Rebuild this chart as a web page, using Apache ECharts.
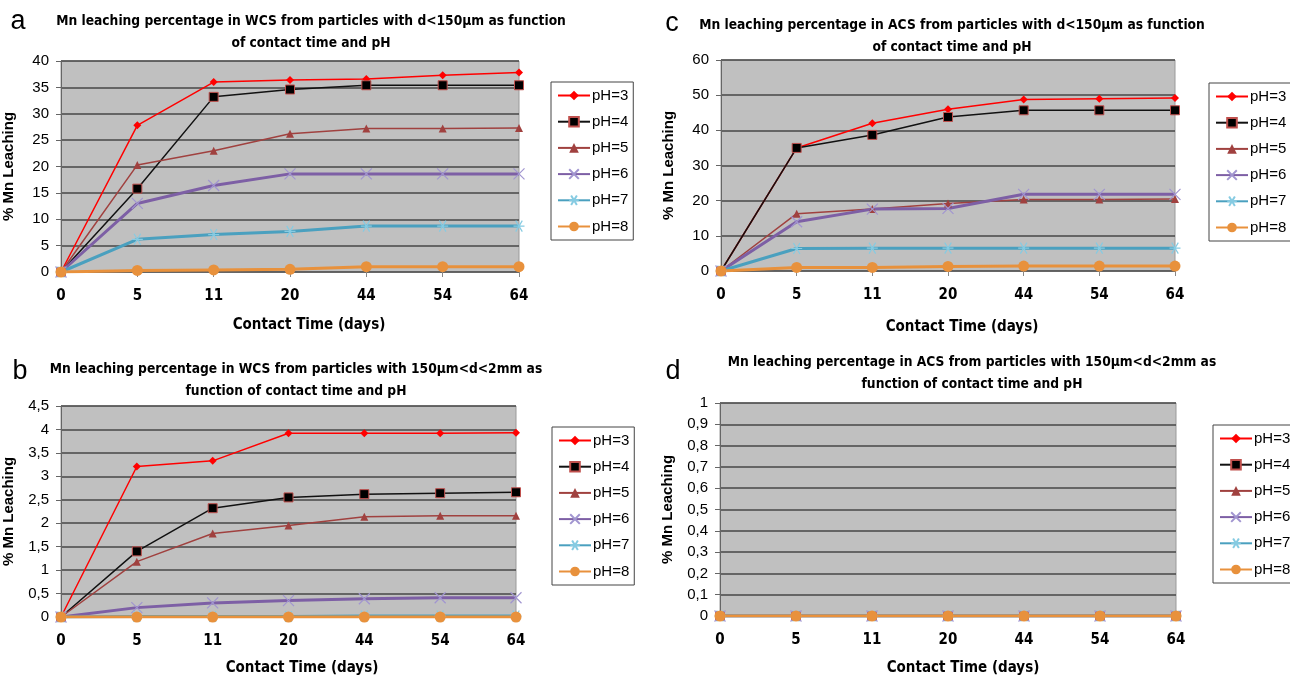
<!DOCTYPE html>
<html>
<head>
<meta charset="utf-8">
<script src="https://cdn.jsdelivr.net/npm/echarts@6/dist/echarts.min.js"></script>
<style>
  html, body { margin: 0; padding: 0; background: #fff; }
  #chart { width: 1290px; height: 676px; }
</style>
</head>
<body>
<div id="chart"></div>
<script>
  // categories: contact time (days)
  var days = ['0', '5', '11', '20', '44', '54', '64'];
  var phNames = ['pH=3', 'pH=4', 'pH=5', 'pH=6', 'pH=7', 'pH=8'];

  // a - WCS, d<150um
  var wcsFine = [
    [0, 27.8, 36.0, 36.4, 36.6, 37.3, 37.8],
    [0, 15.8, 33.2, 34.6, 35.4, 35.4, 35.4],
    [0, 20.3, 23.0, 26.2, 27.2, 27.2, 27.3],
    [0, 13.0, 16.4, 18.6, 18.6, 18.6, 18.6],
    [0, 6.2, 7.1, 7.7, 8.7, 8.7, 8.7],
    [0, 0.3, 0.4, 0.5, 1.0, 1.0, 1.0]
  ];
  // b - WCS, 150um<d<2mm
  var wcsCoarse = [
    [0, 3.21, 3.33, 3.92, 3.92, 3.92, 3.93],
    [0, 1.40, 2.32, 2.55, 2.62, 2.64, 2.66],
    [0, 1.18, 1.78, 1.95, 2.14, 2.16, 2.16],
    [0, 0.20, 0.30, 0.35, 0.39, 0.41, 0.41],
    [0, 0.01, 0.01, 0.01, 0.02, 0.02, 0.02],
    [0, 0, 0, 0, 0, 0, 0]
  ];
  // c - ACS, d<150um
  var acsFine = [
    [0, 35.0, 42.0, 46.0, 48.8, 49.0, 49.2],
    [0, 35.0, 38.7, 43.8, 45.7, 45.7, 45.7],
    [0, 16.3, 17.6, 19.2, 20.3, 20.3, 20.5],
    [0, 14.0, 17.6, 17.8, 21.8, 21.8, 21.8],
    [0, 6.4, 6.5, 6.5, 6.5, 6.5, 6.5],
    [0, 1.0, 1.0, 1.3, 1.4, 1.4, 1.4]
  ];
  // d - ACS, 150um<d<2mm
  var acsCoarse = [
    [0, 0, 0, 0, 0, 0, 0],
    [0, 0, 0, 0, 0, 0, 0],
    [0, 0, 0, 0, 0, 0, 0],
    [0, 0, 0, 0, 0, 0, 0],
    [0, 0, 0, 0, 0, 0, 0],
    [0, 0, 0, 0, 0, 0, 0]
  ];

  var titles = [
    'Mn leaching percentage in WCS from particles with d<150µm as function\nof contact time and pH',
    'Mn leaching percentage in ACS from particles with d<150µm as function\nof contact time and pH',
    'Mn leaching percentage in WCS from particles with 150µm<d<2mm as\nfunction of contact time and pH',
    'Mn leaching percentage in ACS from particles with 150µm<d<2mm as\nfunction of contact time and pH'
  ];
  var letters = ['a', 'c', 'b', 'd'];
  var yMax = [40, 60, 4.5, 1];
  var yStep = [5, 10, 0.5, 0.1];
  var panelData = [wcsFine, acsFine, wcsCoarse, acsCoarse];

  var narrow = '"Liberation Sans Narrow", "DejaVu Sans Condensed", sans-serif';
  var plain = '"Liberation Sans", Arial, sans-serif';

  // panel boxes (pixels)
  var grids = [
    { left: 61, top: 61, width: 458, height: 211 },
    { left: 721, top: 60, width: 454, height: 211 },
    { left: 61, top: 406, width: 455, height: 211 },
    { left: 720, top: 403, width: 456, height: 213 }
  ];
  var titlePos = [[311, 10], [952, 14], [296, 358], [972, 351]];
  var letterPos = [[18, 22], [672, 24], [20, 372], [673, 372]];
  var xNamePos = [[309, 325], [962, 327], [302, 668], [963, 668]];
  var legendPos = [[551, 82], [1209, 83], [552, 427], [1213, 425]];

  var xPath = 'path://M0,0L10,10M10,0L0,10';
  var starPath = 'path://M0,5L10,5M2,0L8,10M8,0L2,10';

  var styles = [
    { line: '#ff0000', w: 1.5, symbol: 'diamond', size: 8, fill: '#ff0000', border: '#ff0000', bw: 0 },
    { line: '#111111', w: 1.5, symbol: 'rect', size: 9, fill: '#000000', border: '#c0504d', bw: 1 },
    { line: '#a0413f', w: 1.5, symbol: 'triangle', size: 8, fill: '#a0413f', border: '#a0413f', bw: 0 },
    { line: '#7d5fa5', w: 3, symbol: xPath, size: 11, fill: 'rgba(0,0,0,0)', border: '#a195d0', bw: 1.2 },
    { line: '#4aa0bf', w: 3, symbol: starPath, size: 11, fill: 'rgba(0,0,0,0)', border: '#86cbe2', bw: 1.2 },
    { line: '#e8913c', w: 3, symbol: 'circle', size: 11, fill: '#e8913c', border: '#e8913c', bw: 0 }
  ];

  var option = {
    animation: false,
    backgroundColor: '#fff',
    grid: [],
    xAxis: [],
    yAxis: [],
    legend: [],
    series: [],
    graphic: []
  };

  for (var p = 0; p < 4; p++) {
    var g = grids[p];
    option.grid.push({
      left: g.left, top: g.top, width: g.width, height: g.height,
      show: true, backgroundColor: '#c0c0c0', borderColor: '#9a9a9a', borderWidth: 1
    });
    option.xAxis.push({
      gridIndex: p,
      type: 'category',
      data: days,
      boundaryGap: false,
      axisLine: { lineStyle: { color: '#666', width: 1 } },
      axisTick: { show: true, length: 5, lineStyle: { color: '#888' } },
      axisLabel: { color: '#000', fontFamily: narrow, fontWeight: 'bold', fontSize: 15, margin: 17 },
      splitLine: { show: false }
    });
    var comma = p >= 2;
    option.yAxis.push({
      gridIndex: p,
      type: 'value',
      min: 0,
      max: yMax[p],
      interval: yStep[p],
      name: '% Mn Leaching',
      nameLocation: 'middle',
      nameGap: 45,
      nameTextStyle: { color: '#000', fontFamily: plain, fontWeight: 'bold', fontSize: 15 },
      axisLine: { show: true, lineStyle: { color: '#666', width: 1 } },
      axisTick: { show: true, length: 5, lineStyle: { color: '#666' } },
      axisLabel: {
        color: '#000', fontFamily: plain, fontSize: 15, margin: 12,
        formatter: (function (c) {
          return function (v) {
            var s = String(Math.round(v * 10) / 10);
            return c ? s.replace('.', ',') : s;
          };
        })(comma)
      },
      splitLine: { show: true, lineStyle: { color: '#474747', width: 1.5 } }
    });
    option.legend.push({
      orient: 'vertical',
      left: legendPos[p][0],
      top: legendPos[p][1],
      data: phNames,
      itemWidth: 32,
      itemHeight: 12,
      itemGap: 11.2,
      padding: [6, 5, 6, 6],
      backgroundColor: '#fff',
      borderColor: '#444',
      borderWidth: 1,
      borderRadius: 0,
      textStyle: { color: '#000', fontFamily: plain, fontSize: 15, padding: [0, 0, 0, -3] }
    });
    for (var s = 0; s < 6; s++) {
      var st = styles[s];
      option.series.push({
        name: phNames[s],
        type: 'line',
        xAxisIndex: p,
        yAxisIndex: p,
        data: panelData[p][s],
        symbol: st.symbol,
        symbolSize: st.size,
        showAllSymbol: true,
        lineStyle: { color: st.line, width: st.w },
        itemStyle: { color: st.fill, borderColor: st.border, borderWidth: st.bw },
        emphasis: { disabled: true }
      });
    }
    option.graphic.push({
      type: 'text', x: titlePos[p][0], y: titlePos[p][1],
      style: {
        text: titles[p], align: 'center', verticalAlign: 'top', lineHeight: 22,
        font: 'bold 13.7px ' + narrow, fill: '#000'
      }
    });
    option.graphic.push({
      type: 'text', x: letterPos[p][0], y: letterPos[p][1],
      style: {
        text: letters[p], align: 'center', verticalAlign: 'middle',
        font: '27px ' + plain, fill: '#000'
      }
    });
    option.graphic.push({
      type: 'text', x: xNamePos[p][0], y: xNamePos[p][1],
      style: {
        text: 'Contact Time (days)', align: 'center', verticalAlign: 'middle',
        font: 'bold 15px ' + narrow, fill: '#000'
      }
    });
  }

  var myChart = echarts.init(document.getElementById('chart'));
  myChart.setOption(option);
</script>
</body>
</html>
